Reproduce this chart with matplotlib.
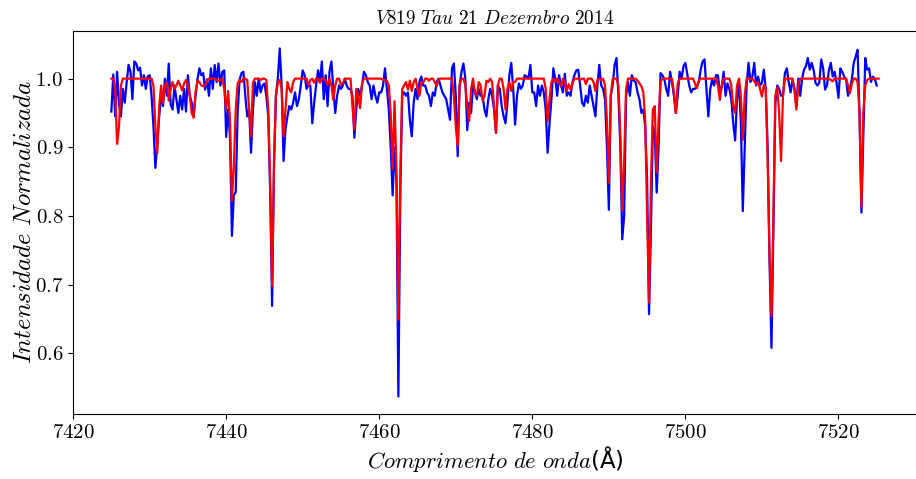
import numpy as np
import matplotlib
matplotlib.use("Agg")
import matplotlib.pyplot as plt

plt.rcParams["font.family"] = "serif"
plt.rcParams["font.serif"] = ["cmr10"]
plt.rcParams["mathtext.fontset"] = "cm"
plt.rcParams["axes.formatter.use_mathtext"] = True

# observed spectrum, 0.25 A sampling starting at 7425.00 A (one row per angstrom)
OBS_START = 7425.0
OBS_STEP = 0.25
obs_flux = [
    0.952, 1.006, 0.945, 1.010,  # 7425
    0.962, 0.945, 0.985, 0.965,  # 7426
    0.995, 1.020, 1.010, 0.970,  # 7427
    1.025, 1.022, 1.012, 1.016,  # 7428
    0.990, 1.005, 0.985, 1.003,  # 7429
    1.005, 0.975, 0.930, 0.870,  # 7430
    0.905, 0.945, 0.975, 0.960,  # 7431
    1.000, 0.975, 1.022, 0.962,  # 7432
    0.955, 0.990, 0.970, 0.950,  # 7433
    0.975, 0.955, 0.985, 0.952,  # 7434
    1.005, 0.975, 0.965, 0.945,  # 7435
    0.975, 0.999, 1.015, 1.005,  # 7436
    1.008, 0.984, 0.999, 0.975,  # 7437
    1.015, 0.985, 1.020, 0.995,  # 7438
    1.022, 0.990, 1.010, 1.012,  # 7439
    0.915, 0.955, 0.915, 0.771,  # 7440
    0.830, 0.835, 0.950, 0.998,  # 7441
    1.008, 1.010, 0.975, 0.945,  # 7442
    0.955, 0.892, 0.955, 0.995,  # 7443
    0.975, 1.000, 0.980, 0.990,  # 7444
    0.993, 0.975, 0.945, 0.834,  # 7445
    0.669, 0.880, 0.975, 1.000,  # 7446
    1.044, 0.990, 0.880, 0.926,  # 7447
    0.945, 0.960, 0.955, 0.965,  # 7448
    0.980, 0.960, 0.970, 0.990,  # 7449
    1.012, 1.005, 0.985, 0.990,  # 7450
    0.990, 0.935, 0.965, 0.990,  # 7451
    1.012, 0.995, 1.025, 0.970,  # 7452
    1.005, 0.960, 1.010, 1.025,  # 7453
    0.985, 0.950, 0.975, 0.990,  # 7454
    0.985, 0.990, 1.000, 0.990,  # 7455
    0.985, 0.985, 0.975, 0.914,  # 7456
    0.955, 0.985, 0.975, 0.990,  # 7457
    1.010, 1.005, 0.995, 0.990,  # 7458
    0.970, 0.990, 0.975, 0.965,  # 7459
    0.980, 0.980, 0.990, 1.015,  # 7460
    0.985, 0.955, 0.900, 0.830,  # 7461
    0.900, 0.850, 0.537, 0.830,  # 7462
    0.975, 0.980, 0.975, 0.980,  # 7463
    0.940, 0.916, 0.965, 0.985,  # 7464
    0.970, 0.995, 1.003, 0.990,  # 7465
    0.990, 0.980, 0.975, 0.960,  # 7466
    0.980, 0.975, 0.995, 1.000,  # 7467
    0.990, 0.980, 0.975, 0.970,  # 7468
    0.955, 0.940, 1.015, 1.022,  # 7469
    0.975, 0.887, 0.990, 1.010,  # 7470
    1.022, 1.000, 0.925, 0.965,  # 7471
    0.950, 0.990, 0.980, 0.970,  # 7472
    0.985, 0.975, 0.975, 0.955,  # 7473
    0.945, 0.970, 0.985, 0.975,  # 7474
    0.955, 0.921, 0.990, 0.985,  # 7475
    0.960, 0.945, 0.935, 0.965,  # 7476
    1.005, 1.023, 0.985, 0.933,  # 7477
    0.975, 0.993, 0.985, 0.990,  # 7478
    1.005, 1.003, 1.000, 1.020,  # 7479
    0.980, 0.980, 0.960, 0.990,  # 7480
    0.975, 0.990, 0.980, 0.955,  # 7481
    0.892, 0.935, 0.970, 1.015,  # 7482
    1.000, 0.975, 1.005, 0.990,  # 7483
    0.980, 1.007, 0.975, 0.980,  # 7484
    0.975, 0.995, 1.005, 1.012,  # 7485
    1.013, 0.990, 0.965, 0.960,  # 7486
    0.975, 0.965, 0.990, 0.975,  # 7487
    0.960, 0.945, 0.990, 1.020,  # 7488
    0.990, 0.985, 0.970, 0.900,  # 7489
    0.809, 0.975, 0.990, 1.020,  # 7490
    1.030, 0.975, 0.900, 0.766,  # 7491
    0.800, 0.975, 0.995, 0.975,  # 7492
    1.005, 0.997, 0.995, 0.980,  # 7493
    0.970, 0.950, 0.955, 0.930,  # 7494
    0.853, 0.657, 0.780, 0.930,  # 7495
    0.920, 0.834, 0.900, 1.008,  # 7496
    1.005, 0.999, 0.985, 0.975,  # 7497
    1.010, 0.995, 0.975, 0.950,  # 7498
    0.975, 1.010, 1.000, 1.018,  # 7499
    1.023, 1.006, 0.990, 0.980,  # 7500
    0.985, 0.985, 0.990, 0.995,  # 7501
    1.013, 1.025, 1.028, 0.985,  # 7502
    0.945, 0.985, 0.999, 0.990,  # 7503
    1.005, 1.005, 0.980, 0.988,  # 7504
    1.010, 0.975, 0.993, 0.985,  # 7505
    0.970, 0.935, 0.910, 0.970,  # 7506
    0.993, 0.935, 0.807, 0.900,  # 7507
    0.990, 1.023, 0.995, 1.003,  # 7508
    1.023, 0.990, 1.003, 0.990,  # 7509
    0.994, 1.013, 0.985, 0.900,  # 7510
    0.730, 0.608, 0.780, 0.965,  # 7511
    0.990, 0.985, 0.975, 0.975,  # 7512
    1.008, 1.015, 0.995, 0.980,  # 7513
    0.998, 0.985, 0.960, 1.000,  # 7514
    0.975, 1.000, 1.013, 1.018,  # 7515
    1.030, 1.013, 1.023, 1.013,  # 7516
    0.994, 0.990, 0.994, 1.028,  # 7517
    1.015, 0.984, 0.990, 1.012,  # 7518
    1.023, 1.003, 1.010, 0.994,  # 7519
    0.972, 1.015, 1.010, 1.003,  # 7520
    0.999, 0.975, 0.985, 0.999,  # 7521
    1.023, 1.032, 1.042, 0.950,  # 7522
    0.805, 0.920, 1.030, 1.013,  # 7523
    1.015, 0.995, 1.003, 0.999,  # 7524
    0.990,                       # 7525
]

# synthetic spectrum, same sampling, starting at 7425.00 A
MOD_START = 7425.0
MOD_STEP = 0.25
mod_flux = [
    1.000, 1.000, 0.985, 0.905,  # 7425
    0.930, 0.990, 1.000, 1.000,  # 7426
    1.000, 1.000, 1.000, 1.000,  # 7427
    1.000, 1.000, 1.000, 1.000,  # 7428
    1.000, 1.000, 1.000, 1.000,  # 7429
    1.000, 1.000, 0.990, 0.930,  # 7430
    0.892, 0.960, 0.990, 0.965,  # 7431
    0.990, 0.995, 0.968, 0.985,  # 7432
    0.995, 0.985, 0.990, 0.997,  # 7433
    0.990, 0.983, 0.993, 0.998,  # 7434
    0.990, 0.975, 0.950, 0.943,  # 7435
    0.980, 0.997, 0.995, 0.990,  # 7436
    0.989, 0.990, 0.997, 1.000,  # 7437
    1.000, 1.000, 1.000, 0.998,  # 7438
    0.997, 0.998, 1.000, 0.985,  # 7439
    0.955, 0.982, 0.940, 0.822,  # 7440
    0.870, 0.955, 0.993, 0.998,  # 7441
    0.995, 1.000, 1.000, 0.998,  # 7442
    0.955, 0.916, 0.994, 1.000,  # 7443
    1.000, 1.000, 0.998, 1.000,  # 7444
    1.000, 0.998, 0.955, 0.850,  # 7445
    0.698, 0.870, 0.975, 0.995,  # 7446
    0.998, 0.985, 0.916, 0.955,  # 7447
    0.995, 0.985, 0.980, 0.995,  # 7448
    1.000, 1.000, 1.000, 1.000,  # 7449
    1.000, 1.000, 1.000, 0.990,  # 7450
    0.998, 1.000, 0.994, 1.000,  # 7451
    1.000, 0.994, 1.000, 1.000,  # 7452
    0.997, 0.991, 1.000, 0.990,  # 7453
    0.969, 0.990, 1.000, 1.000,  # 7454
    0.991, 0.993, 1.000, 1.000,  # 7455
    1.000, 1.000, 0.960, 0.926,  # 7456
    0.985, 0.975, 0.957, 0.993,  # 7457
    1.000, 1.000, 1.000, 1.000,  # 7458
    1.000, 1.000, 1.000, 1.000,  # 7459
    1.000, 1.000, 0.998, 0.998,  # 7460
    0.997, 0.990, 0.950, 0.868,  # 7461
    0.967, 0.870, 0.649, 0.860,  # 7462
    0.985, 0.990, 0.995, 0.984,  # 7463
    0.997, 0.982, 0.995, 1.000,  # 7464
    0.985, 0.975, 0.995, 0.994,  # 7465
    1.000, 1.000, 0.997, 1.000,  # 7466
    1.000, 0.995, 0.989, 0.998,  # 7467
    1.000, 1.000, 1.000, 1.000,  # 7468
    1.000, 1.000, 1.000, 0.975,  # 7469
    0.930, 0.902, 0.990, 1.000,  # 7470
    1.000, 0.990, 0.960, 0.938,  # 7471
    0.985, 1.000, 0.980, 0.975,  # 7472
    0.995, 0.990, 0.968, 0.975,  # 7473
    0.997, 0.995, 1.000, 0.995,  # 7474
    0.960, 0.921, 0.990, 1.000,  # 7475
    1.000, 0.985, 0.955, 0.985,  # 7476
    0.995, 0.982, 0.995, 0.995,  # 7477
    1.000, 1.000, 1.000, 1.000,  # 7478
    1.000, 1.000, 1.000, 1.000,  # 7479
    1.000, 1.000, 1.000, 1.000,  # 7480
    1.000, 1.000, 1.000, 0.985,  # 7481
    0.938, 0.970, 0.995, 1.000,  # 7482
    0.995, 1.000, 0.995, 0.989,  # 7483
    1.000, 0.995, 0.982, 0.992,  # 7484
    0.984, 0.993, 1.000, 1.000,  # 7485
    1.000, 0.998, 1.000, 1.000,  # 7486
    0.992, 1.000, 1.000, 1.000,  # 7487
    0.995, 0.982, 0.998, 1.000,  # 7488
    0.998, 1.000, 0.990, 0.940,  # 7489
    0.848, 0.975, 1.000, 1.000,  # 7490
    1.000, 0.990, 0.920, 0.809,  # 7491
    0.880, 0.985, 1.000, 1.000,  # 7492
    1.000, 1.000, 1.000, 0.997,  # 7493
    0.993, 0.989, 0.980, 0.940,  # 7494
    0.800, 0.674, 0.850, 0.955,  # 7495
    0.960, 0.863, 0.940, 0.995,  # 7496
    1.000, 1.000, 1.000, 1.000,  # 7497
    1.000, 1.000, 0.980, 0.950,  # 7498
    0.993, 1.000, 1.000, 1.000,  # 7499
    1.000, 1.000, 1.000, 1.000,  # 7500
    1.000, 0.993, 0.986, 0.997,  # 7501
    1.000, 1.000, 1.000, 1.000,  # 7502
    1.000, 1.000, 1.000, 1.000,  # 7503
    1.000, 0.990, 0.969, 0.990,  # 7504
    1.000, 1.000, 1.000, 1.000,  # 7505
    0.990, 0.960, 0.950, 0.990,  # 7506
    1.000, 0.975, 0.911, 0.975,  # 7507
    1.000, 1.000, 1.000, 1.000,  # 7508
    0.996, 0.992, 0.995, 0.985,  # 7509
    0.974, 0.991, 0.985, 0.880,  # 7510
    0.740, 0.654, 0.800, 0.975,  # 7511
    0.987, 0.950, 0.880, 0.975,  # 7512
    1.000, 1.000, 1.000, 1.000,  # 7513
    1.000, 0.985, 0.955, 0.990,  # 7514
    1.000, 1.000, 1.000, 1.000,  # 7515
    1.000, 1.000, 1.000, 1.000,  # 7516
    1.000, 1.000, 1.000, 1.000,  # 7517
    1.000, 1.000, 1.000, 1.000,  # 7518
    0.998, 0.996, 1.000, 1.000,  # 7519
    1.000, 1.000, 1.000, 1.000,  # 7520
    1.000, 0.990, 0.979, 0.993,  # 7521
    1.000, 1.000, 0.995, 0.950,  # 7522
    0.814, 0.950, 0.990, 0.998,  # 7523
    1.000, 1.000, 1.000, 1.000,  # 7524
    1.000, 1.000,                # 7525
]

TITLE = r"$V819\ Tau\ 21\ Dezembro\ 2014$"
XLABEL = r"$Comprimento\ de\ onda$(Å)"
YLABEL = r"$Intensidade\ Normalizada$"

obs_wl = OBS_START + OBS_STEP * np.arange(len(obs_flux))
mod_wl = MOD_START + MOD_STEP * np.arange(len(mod_flux))

fig = plt.figure(figsize=(9.16, 4.79), dpi=100)
ax = fig.add_axes([73 / 916, 65 / 479, 844 / 916, 383 / 479])

ax.plot(obs_wl, obs_flux, color="b", lw=1.6)
ax.plot(mod_wl, mod_flux, color="r", lw=1.6)

ax.set_title(TITLE, fontsize=13.8, pad=5)
ax.set_xlabel(XLABEL, fontsize=16.3, family="DejaVu Sans", labelpad=2)
ax.set_ylabel(YLABEL, fontsize=17.8, labelpad=-1)
ax.tick_params(labelsize=15)

fig.savefig("out.png", dpi=100)
